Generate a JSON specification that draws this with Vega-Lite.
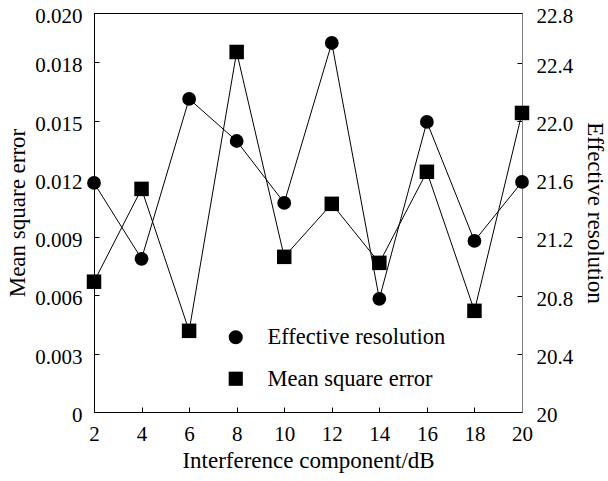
{
  "$schema": "https://vega.github.io/schema/vega-lite/v6.json",
  "width": 428,
  "height": 399,
  "autosize": {"type": "none"},
  "padding": {"left": 94, "top": 13, "right": 86, "bottom": 69},
  "background": "white",
  "config": {
    "view": {"stroke": "black", "strokeWidth": 1},
    "font": "Liberation Serif",
    "axis": {
      "grid": false,
      "domainColor": "black",
      "tickColor": "black",
      "labelColor": "black",
      "titleColor": "black",
      "labelFont": "Liberation Serif",
      "titleFont": "Liberation Serif",
      "labelFontSize": 21,
      "titleFontSize": 23,
      "titleFontWeight": "normal",
      "tickSize": -5,
      "domainWidth": 1,
      "tickWidth": 1
    },
    "legend": {
      "orient": "none",
      "legendX": 130.5,
      "legendY": 313,
      "padding": 0,
      "labelFont": "Liberation Serif",
      "labelFontSize": 22.5,
      "labelColor": "black",
      "labelOffset": 20.5,
      "labelLimit": 0,
      "rowPadding": 18.5,
      "symbolSize": 200,
      "symbolFillColor": "black",
      "symbolStrokeWidth": 0
    }
  },
  "data": {
    "values": [
      {"x": 2, "series": "Mean square error", "value": 0.00671},
      {"x": 4, "series": "Mean square error", "value": 0.01149},
      {"x": 6, "series": "Mean square error", "value": 0.00418},
      {"x": 8, "series": "Mean square error", "value": 0.01854},
      {"x": 10, "series": "Mean square error", "value": 0.00799},
      {"x": 12, "series": "Mean square error", "value": 0.01072},
      {"x": 14, "series": "Mean square error", "value": 0.00768},
      {"x": 16, "series": "Mean square error", "value": 0.01237},
      {"x": 18, "series": "Mean square error", "value": 0.00521},
      {"x": 20, "series": "Mean square error", "value": 0.0154},
      {"x": 2, "series": "Effective resolution", "value": 21.573},
      {"x": 4, "series": "Effective resolution", "value": 21.052},
      {"x": 6, "series": "Effective resolution", "value": 22.15},
      {"x": 8, "series": "Effective resolution", "value": 21.861},
      {"x": 10, "series": "Effective resolution", "value": 21.436},
      {"x": 12, "series": "Effective resolution", "value": 22.534},
      {"x": 14, "series": "Effective resolution", "value": 20.777},
      {"x": 16, "series": "Effective resolution", "value": 21.992},
      {"x": 18, "series": "Effective resolution", "value": 21.175},
      {"x": 20, "series": "Effective resolution", "value": 21.58}
    ]
  },
  "encoding": {
    "x": {
      "field": "x",
      "type": "quantitative",
      "scale": {"domain": [2, 20], "nice": false, "zero": false},
      "axis": {
        "values": [2, 4, 6, 8, 10, 12, 14, 16, 18, 20],
        "labelPadding": 16,
        "labelBaseline": "top",
        "labelFlush": false,
        "title": "Interference component/dB",
        "titleX": 214,
        "titleY": 48,
        "titleBaseline": "middle"
      }
    }
  },
  "layer": [
    {
      "transform": [{"filter": "datum.series === 'Mean square error'"}],
      "encoding": {
        "y": {
          "field": "value",
          "type": "quantitative",
          "scale": {"domain": [0, 0.020547], "nice": false, "zero": true},
          "axis": {
            "orient": "left",
            "values": [0, 0.003, 0.006, 0.009, 0.012, 0.015, 0.018, 0.020547],
            "labelExpr": "datum.value > 0.0195 ? '0.020' : datum.value == 0 ? '0' : format(datum.value, '.3f')",
            "labelPadding": 17,
            "labelOffset": 3.5,
            "labelFlush": false,
            "title": "Mean square error",
            "titleX": -77,
            "titleY": 199.5,
            "titleAngle": -90,
            "titleBaseline": "middle"
          }
        }
      },
      "layer": [
        {"mark": {"type": "line", "color": "black", "strokeWidth": 1}},
        {
          "mark": {"type": "point", "filled": true, "color": "black", "opacity": 1, "size": 210},
          "encoding": {
            "shape": {
              "field": "series",
              "type": "nominal",
              "scale": {"domain": ["Effective resolution", "Mean square error"], "range": ["circle", "square"]},
              "legend": {"title": null}
            }
          }
        }
      ]
    },
    {
      "transform": [{"filter": "datum.series === 'Effective resolution'"}],
      "encoding": {
        "y": {
          "field": "value",
          "type": "quantitative",
          "scale": {"domain": [20, 22.74], "nice": false, "zero": false},
          "axis": {
            "orient": "right",
            "values": [20, 20.4, 20.8, 21.2, 21.6, 22.0, 22.4, 22.74],
            "labelExpr": "datum.value > 22.7 ? '22.8' : datum.value == 20 ? '20' : format(datum.value, '.1f')",
            "labelPadding": 19,
            "labelOffset": 3.5,
            "labelFlush": false,
            "domainColor": "#808080",
            "title": "Effective resolution",
            "titleX": 72,
            "titleY": 199.5,
            "titleAngle": 90,
            "titleBaseline": "middle"
          }
        }
      },
      "layer": [
        {"mark": {"type": "line", "color": "black", "strokeWidth": 1}},
        {
          "mark": {"type": "point", "filled": true, "color": "black", "opacity": 1, "size": 190},
          "encoding": {
            "shape": {
              "field": "series",
              "type": "nominal",
              "scale": {"domain": ["Effective resolution", "Mean square error"], "range": ["circle", "square"]},
              "legend": {"title": null}
            }
          }
        }
      ]
    }
  ],
  "resolve": {"scale": {"y": "independent"}}
}
